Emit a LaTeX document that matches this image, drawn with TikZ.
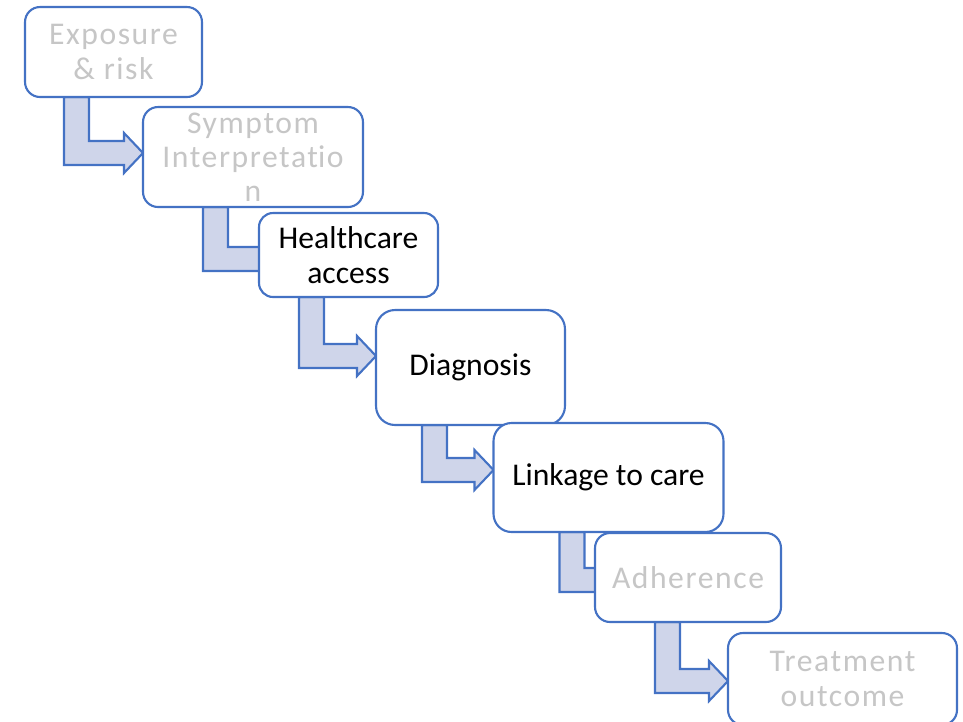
\documentclass[tikz,border=0pt]{standalone}
\usepackage{fontspec}
\setmainfont{Carlito}
\newfontfamily\spacedfont{Carlito}[LetterSpace=5, Ligatures={NoCommon, NoRare, NoContextual}]
\usetikzlibrary{calc,backgrounds}

\definecolor{boxblue}{HTML}{4472C4}
\definecolor{arrowfill}{HTML}{CFD5EA}
\definecolor{fadetext}{RGB}{198,198,198}

\tikzset{
	stage/.style = {draw = boxblue, line width = 1.2pt, fill = white, rounded corners = #1, align = center, inner sep = 0pt, outer sep = 0pt, font = \fontsize{18}{19.5}\selectfont},
	stage/.default = 0.3cm,
	faded/.style = {text = fadetext, font = \fontsize{18}{19.5}\selectfont\spacedfont},
	arrowbody/.style = {draw = boxblue, line width = 1.2pt, fill = arrowfill, line join = miter}
}

% #1 from, #2 to, #3 shift of the bar, #4 drop to the lower edge, #5 shift of the tip
\newcommand{\stairarrow}[5]{%
	\path ($(#1.south west) + (#3, 0)$) coordinate (t0) -- ++(0, #4) coordinate (t1);
	\path (#2.west |- t1) coordinate (t2);
	\draw[arrowbody] (t0) -- (t1) -- ($(t2) + (#5 - 19, 0)$) -- ++(0, 8) -- ($(t2) + (#5, -12)$) -- ($(t2) + (#5 - 19, -32)$) -- ++(0, 8) -- ($(t0) + (25, #4 - 24)$) -- ($(t0) + (25, 0)$) -- cycle;
}

\begin{document}
\begin{tikzpicture}[x = 0.02cm, y = -0.02cm]
		%\draw[gray, dotted] (0, 0) grid[step = 50] (963, 721);
		\useasboundingbox (0, 0) rectangle (963, 721);
		\node[stage, faded, minimum width = 3.54cm, minimum height = 1.8cm] (exposure) at (113.5, 52) {Exposure\\\& risk};
		\node[stage, faded, minimum width = 4.4cm, minimum height = 2cm] (symptom) at (253, 157) {Symptom\\Interpretat\kern0pt io\\n};
		\node[stage = 0.28cm, minimum width = 3.58cm, minimum height = 1.68cm] (access) at (348.5, 255) {Healthcare\\access};
		\node[stage = 0.38cm, minimum width = 3.78cm, minimum height = 2.3cm] (diagnosis) at (470.5, 367.5) {Diagnosis};
		\node[stage = 0.36cm, minimum width = 4.6cm, minimum height = 2.18cm] (linkage) at (608.5, 477.5) {Linkage to care};
		\node[stage, faded, minimum width = 3.72cm, minimum height = 1.78cm] (adherence) at (688, 577.5) {Adherence};
		\node[stage, faded, minimum width = 4.58cm, minimum height = 1.84cm] (outcome) at (842.5, 679) {Treatment\\outcome};
		\begin{scope}[on background layer]
			\stairarrow{exposure}{symptom}{39}{68}{0}
			\stairarrow{symptom}{access}{60}{64}{25}
			\stairarrow{access}{diagnosis}{40}{71}{0}
			\stairarrow{diagnosis}{linkage}{46}{57}{0}
			\stairarrow{linkage}{adherence}{66}{60}{25}
			\stairarrow{adherence}{outcome}{60}{71}{0}
		\end{scope}
	\end{tikzpicture}
\end{document}
